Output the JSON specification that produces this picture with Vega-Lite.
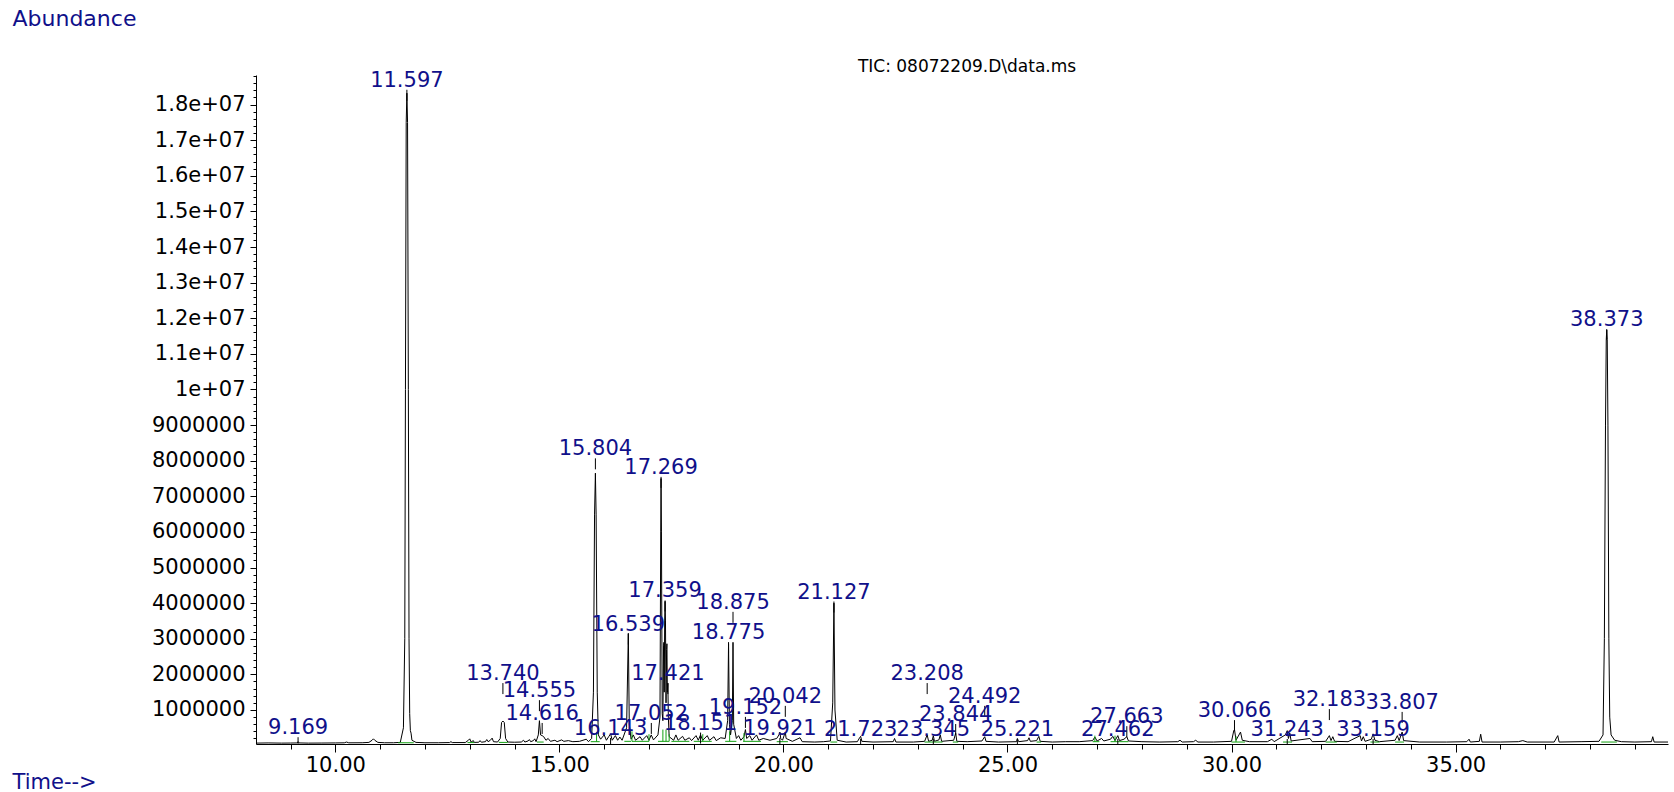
{
  "$schema": "https://vega.github.io/schema/vega-lite/v6.json",
  "width": 1412,
  "height": 669,
  "autosize": {"type": "none"},
  "padding": {"left": 256, "top": 75, "right": 6, "bottom": 48},
  "background": "white",
  "config": {"view": {"stroke": null}, "font": "DejaVu Sans"},
  "title": {"text": "TIC: 08072209.D\\data.ms", "anchor": "middle", "fontSize": 17, "fontWeight": "normal", "font": "DejaVu Sans", "color": "black", "offset": -64, "dx": 5, "dy": 5},
  "datasets": {
    "trace": [
      {"t": 8.23, "a": 70000}, {"t": 8.5, "a": 75000}, {"t": 8.8, "a": 70000}, {"t": 9.0, "a": 72000}, {"t": 9.15, "a": 75000}, {"t": 9.169, "a": 110000}, {"t": 9.19, "a": 75000}, {"t": 9.4, "a": 70000}, {"t": 9.7, "a": 72000}, {"t": 10.0, "a": 75000}, {"t": 10.2, "a": 78000}, {"t": 10.25, "a": 100000}, {"t": 10.3, "a": 78000}, {"t": 10.6, "a": 80000}, {"t": 10.75, "a": 90000}, {"t": 10.82, "a": 150000}, {"t": 10.85, "a": 190000}, {"t": 10.88, "a": 150000}, {"t": 10.95, "a": 90000}, {"t": 11.1, "a": 80000}, {"t": 11.3, "a": 80000}, {"t": 11.45, "a": 90000},
      {"t": 11.52, "a": 500000}, {"t": 11.55, "a": 3000000}, {"t": 11.565, "a": 10000000}, {"t": 11.582, "a": 17500000}, {"t": 11.597, "a": 18320000}, {"t": 11.612, "a": 17500000}, {"t": 11.63, "a": 10000000}, {"t": 11.645, "a": 3000000}, {"t": 11.66, "a": 900000}, {"t": 11.675, "a": 420000}, {"t": 11.69, "a": 350000}, {"t": 11.71, "a": 150000}, {"t": 11.8, "a": 90000}, {"t": 12.0, "a": 80000}, {"t": 12.3, "a": 80000}, {"t": 12.55, "a": 85000}, {"t": 12.58, "a": 110000}, {"t": 12.61, "a": 85000}, {"t": 12.9, "a": 85000}, {"t": 12.97, "a": 150000}, {"t": 13.0, "a": 190000}, {"t": 13.03, "a": 100000}, {"t": 13.08, "a": 140000}, {"t": 13.1, "a": 90000}, {"t": 13.2, "a": 95000}, {"t": 13.23, "a": 140000}, {"t": 13.26, "a": 95000}, {"t": 13.35, "a": 110000}, {"t": 13.38, "a": 170000}, {"t": 13.41, "a": 110000}, {"t": 13.46, "a": 150000}, {"t": 13.5, "a": 210000}, {"t": 13.53, "a": 110000}, {"t": 13.62, "a": 100000}, {"t": 13.68, "a": 200000}, {"t": 13.71, "a": 650000}, {"t": 13.74, "a": 690000}, {"t": 13.77, "a": 650000}, {"t": 13.8, "a": 200000}, {"t": 13.85, "a": 100000}, {"t": 14.0, "a": 95000}, {"t": 14.15, "a": 100000}, {"t": 14.2, "a": 150000}, {"t": 14.23, "a": 100000}, {"t": 14.3, "a": 130000}, {"t": 14.33, "a": 170000}, {"t": 14.36, "a": 110000}, {"t": 14.42, "a": 140000}, {"t": 14.45, "a": 190000}, {"t": 14.48, "a": 110000}, {"t": 14.53, "a": 300000}, {"t": 14.555, "a": 700000}, {"t": 14.58, "a": 300000}, {"t": 14.616, "a": 280000}, {"t": 14.65, "a": 250000}, {"t": 14.7, "a": 150000}, {"t": 14.75, "a": 200000}, {"t": 14.8, "a": 120000}, {"t": 14.9, "a": 150000}, {"t": 14.95, "a": 110000}, {"t": 15.05, "a": 160000}, {"t": 15.1, "a": 120000}, {"t": 15.2, "a": 140000}, {"t": 15.3, "a": 110000}, {"t": 15.45, "a": 120000}, {"t": 15.6, "a": 180000}, {"t": 15.65, "a": 110000}, {"t": 15.72, "a": 200000},
      {"t": 15.76, "a": 1500000}, {"t": 15.785, "a": 6500000}, {"t": 15.804, "a": 7650000}, {"t": 15.82, "a": 6500000}, {"t": 15.845, "a": 1500000}, {"t": 15.87, "a": 300000}, {"t": 15.92, "a": 180000}, {"t": 16.0, "a": 300000}, {"t": 16.05, "a": 150000}, {"t": 16.1, "a": 250000}, {"t": 16.143, "a": 330000}, {"t": 16.18, "a": 150000}, {"t": 16.25, "a": 280000}, {"t": 16.3, "a": 150000}, {"t": 16.35, "a": 240000}, {"t": 16.4, "a": 150000}, {"t": 16.5, "a": 500000}, {"t": 16.539, "a": 3150000}, {"t": 16.56, "a": 600000}, {"t": 16.6, "a": 180000}, {"t": 16.65, "a": 300000}, {"t": 16.7, "a": 150000}, {"t": 16.8, "a": 250000}, {"t": 16.85, "a": 150000}, {"t": 16.95, "a": 280000}, {"t": 17.0, "a": 150000}, {"t": 17.05, "a": 300000}, {"t": 17.1, "a": 160000}, {"t": 17.2, "a": 300000},
      {"t": 17.245, "a": 800000}, {"t": 17.262, "a": 6000000}, {"t": 17.269, "a": 7500000}, {"t": 17.278, "a": 6000000}, {"t": 17.295, "a": 900000}, {"t": 17.31, "a": 700000}, {"t": 17.325, "a": 2800000}, {"t": 17.333, "a": 2900000}, {"t": 17.34, "a": 1500000}, {"t": 17.35, "a": 3500000}, {"t": 17.359, "a": 4050000}, {"t": 17.368, "a": 3500000}, {"t": 17.38, "a": 1200000}, {"t": 17.393, "a": 2700000}, {"t": 17.4, "a": 2860000}, {"t": 17.41, "a": 1500000}, {"t": 17.421, "a": 1750000}, {"t": 17.432, "a": 800000}, {"t": 17.45, "a": 250000}, {"t": 17.55, "a": 150000}, {"t": 17.6, "a": 300000}, {"t": 17.65, "a": 150000}, {"t": 17.75, "a": 260000}, {"t": 17.8, "a": 150000}, {"t": 17.9, "a": 220000}, {"t": 17.95, "a": 140000}, {"t": 18.05, "a": 280000}, {"t": 18.1, "a": 150000}, {"t": 18.15, "a": 300000}, {"t": 18.2, "a": 150000}, {"t": 18.3, "a": 280000}, {"t": 18.35, "a": 150000}, {"t": 18.45, "a": 250000}, {"t": 18.5, "a": 140000}, {"t": 18.6, "a": 220000}, {"t": 18.7, "a": 200000}, {"t": 18.755, "a": 700000}, {"t": 18.775, "a": 2860000}, {"t": 18.795, "a": 600000}, {"t": 18.82, "a": 300000}, {"t": 18.86, "a": 700000}, {"t": 18.875, "a": 2900000}, {"t": 18.89, "a": 600000}, {"t": 18.95, "a": 200000}, {"t": 19.0, "a": 280000}, {"t": 19.05, "a": 150000}, {"t": 19.12, "a": 250000}, {"t": 19.152, "a": 450000}, {"t": 19.18, "a": 200000}, {"t": 19.25, "a": 280000}, {"t": 19.3, "a": 150000}, {"t": 19.4, "a": 300000}, {"t": 19.45, "a": 150000}, {"t": 19.55, "a": 200000}, {"t": 19.7, "a": 150000}, {"t": 19.85, "a": 200000}, {"t": 19.9, "a": 300000}, {"t": 19.921, "a": 380000}, {"t": 19.94, "a": 200000}, {"t": 19.98, "a": 150000}, {"t": 20.02, "a": 300000}, {"t": 20.042, "a": 380000}, {"t": 20.06, "a": 200000}, {"t": 20.2, "a": 120000}, {"t": 20.37, "a": 220000}, {"t": 20.42, "a": 110000}, {"t": 20.7, "a": 100000}, {"t": 20.9, "a": 110000}, {"t": 21.05, "a": 130000}, {"t": 21.1, "a": 1200000}, {"t": 21.127, "a": 4000000}, {"t": 21.15, "a": 1000000}, {"t": 21.2, "a": 150000}, {"t": 21.4, "a": 100000}, {"t": 21.65, "a": 110000}, {"t": 21.7, "a": 220000}, {"t": 21.723, "a": 260000}, {"t": 21.75, "a": 120000}, {"t": 22.0, "a": 100000}, {"t": 22.45, "a": 110000}, {"t": 22.48, "a": 200000}, {"t": 22.51, "a": 100000}, {"t": 22.9, "a": 100000}, {"t": 23.15, "a": 120000}, {"t": 23.208, "a": 300000}, {"t": 23.24, "a": 120000}, {"t": 23.32, "a": 150000}, {"t": 23.345, "a": 280000}, {"t": 23.37, "a": 120000}, {"t": 23.47, "a": 160000}, {"t": 23.5, "a": 300000}, {"t": 23.53, "a": 120000}, {"t": 23.8, "a": 150000}, {"t": 23.844, "a": 350000}, {"t": 23.87, "a": 120000}, {"t": 24.1, "a": 110000}, {"t": 24.43, "a": 130000}, {"t": 24.492, "a": 250000}, {"t": 24.52, "a": 120000}, {"t": 24.8, "a": 100000}, {"t": 25.2, "a": 110000}, {"t": 25.221, "a": 200000}, {"t": 25.25, "a": 110000}, {"t": 25.45, "a": 140000}, {"t": 25.48, "a": 220000}, {"t": 25.51, "a": 120000}, {"t": 25.65, "a": 140000}, {"t": 25.7, "a": 260000}, {"t": 25.73, "a": 120000}, {"t": 26.0, "a": 100000}, {"t": 26.3, "a": 110000}, {"t": 26.6, "a": 110000}, {"t": 26.9, "a": 140000}, {"t": 26.95, "a": 240000}, {"t": 27.0, "a": 130000}, {"t": 27.1, "a": 200000}, {"t": 27.15, "a": 130000}, {"t": 27.3, "a": 180000}, {"t": 27.35, "a": 260000}, {"t": 27.4, "a": 140000}, {"t": 27.462, "a": 280000}, {"t": 27.5, "a": 140000}, {"t": 27.6, "a": 180000}, {"t": 27.663, "a": 250000}, {"t": 27.7, "a": 130000}, {"t": 28.0, "a": 110000}, {"t": 28.4, "a": 100000}, {"t": 28.8, "a": 110000}, {"t": 28.85, "a": 150000}, {"t": 28.9, "a": 100000}, {"t": 29.15, "a": 110000}, {"t": 29.2, "a": 150000}, {"t": 29.25, "a": 100000}, {"t": 29.6, "a": 100000}, {"t": 30.0, "a": 120000}, {"t": 30.05, "a": 420000}, {"t": 30.066, "a": 450000}, {"t": 30.1, "a": 150000}, {"t": 30.2, "a": 380000}, {"t": 30.24, "a": 150000}, {"t": 30.4, "a": 110000}, {"t": 30.8, "a": 110000}, {"t": 30.9, "a": 180000}, {"t": 30.95, "a": 110000}, {"t": 31.2, "a": 300000}, {"t": 31.243, "a": 420000}, {"t": 31.27, "a": 200000}, {"t": 31.3, "a": 350000}, {"t": 31.33, "a": 130000}, {"t": 31.75, "a": 200000}, {"t": 31.8, "a": 110000}, {"t": 32.1, "a": 120000}, {"t": 32.183, "a": 280000}, {"t": 32.22, "a": 140000}, {"t": 32.26, "a": 250000}, {"t": 32.3, "a": 120000}, {"t": 32.6, "a": 110000}, {"t": 32.87, "a": 280000}, {"t": 32.9, "a": 130000}, {"t": 32.94, "a": 250000}, {"t": 32.98, "a": 120000}, {"t": 33.12, "a": 180000}, {"t": 33.159, "a": 330000}, {"t": 33.2, "a": 150000}, {"t": 33.3, "a": 110000}, {"t": 33.65, "a": 150000}, {"t": 33.7, "a": 280000}, {"t": 33.74, "a": 140000}, {"t": 33.807, "a": 380000}, {"t": 33.84, "a": 140000}, {"t": 34.2, "a": 100000}, {"t": 34.8, "a": 100000}, {"t": 35.25, "a": 110000}, {"t": 35.3, "a": 180000}, {"t": 35.33, "a": 100000}, {"t": 35.53, "a": 120000}, {"t": 35.56, "a": 320000}, {"t": 35.59, "a": 100000}, {"t": 36.0, "a": 100000}, {"t": 36.4, "a": 110000}, {"t": 36.5, "a": 140000}, {"t": 36.6, "a": 100000}, {"t": 37.2, "a": 100000}, {"t": 37.28, "a": 280000}, {"t": 37.31, "a": 100000}, {"t": 37.8, "a": 110000}, {"t": 38.2, "a": 120000}, {"t": 38.29, "a": 300000}, {"t": 38.32, "a": 3000000}, {"t": 38.345, "a": 9000000}, {"t": 38.362, "a": 11400000}, {"t": 38.373, "a": 11670000}, {"t": 38.384, "a": 11400000}, {"t": 38.4, "a": 9000000}, {"t": 38.42, "a": 3000000}, {"t": 38.44, "a": 800000}, {"t": 38.47, "a": 300000}, {"t": 38.55, "a": 150000}, {"t": 38.7, "a": 110000}, {"t": 39.0, "a": 100000}, {"t": 39.37, "a": 110000}, {"t": 39.4, "a": 250000}, {"t": 39.43, "a": 100000}, {"t": 39.74, "a": 100000}
    ],
    "base": [
      {"t": 11.4, "t2": 11.75, "a": 80000}, {"t": 12.95, "t2": 13.1, "a": 85000}, {"t": 13.65, "t2": 13.85, "a": 90000}, {"t": 14.5, "t2": 14.65, "a": 100000}, {"t": 15.7, "t2": 15.9, "a": 110000}, {"t": 16.45, "t2": 16.6, "a": 120000}, {"t": 16.62, "t2": 17.0, "a": 120000}, {"t": 17.2, "t2": 17.45, "a": 120000}, {"t": 17.5, "t2": 17.9, "a": 120000}, {"t": 18.0, "t2": 18.4, "a": 120000}, {"t": 18.7, "t2": 18.95, "a": 120000}, {"t": 19.1, "t2": 19.5, "a": 120000}, {"t": 19.85, "t2": 20.1, "a": 110000}, {"t": 21.05, "t2": 21.2, "a": 100000}, {"t": 23.15, "t2": 23.55, "a": 100000}, {"t": 23.78, "t2": 23.9, "a": 100000}, {"t": 25.65, "t2": 25.75, "a": 100000}, {"t": 26.9, "t2": 27.05, "a": 110000}, {"t": 27.3, "t2": 27.7, "a": 110000}, {"t": 30.0, "t2": 30.3, "a": 100000}, {"t": 31.15, "t2": 31.35, "a": 100000}, {"t": 32.1, "t2": 32.35, "a": 100000}, {"t": 33.1, "t2": 33.3, "a": 100000}, {"t": 33.65, "t2": 33.85, "a": 100000}, {"t": 38.25, "t2": 38.6, "a": 100000}
    ],
    "marks": [
      {"t": 15.83, "a": 110000, "a2": 380000}, {"t": 16.62, "a": 120000, "a2": 400000}, {"t": 17.0, "a": 120000, "a2": 320000}, {"t": 17.31, "a": 120000, "a2": 450000}, {"t": 17.38, "a": 120000, "a2": 450000}, {"t": 17.45, "a": 120000, "a2": 320000}, {"t": 18.2, "a": 120000, "a2": 320000}, {"t": 18.8, "a": 120000, "a2": 400000}, {"t": 19.12, "a": 120000, "a2": 350000}, {"t": 26.95, "a": 110000, "a2": 280000}, {"t": 27.4, "a": 110000, "a2": 280000}, {"t": 30.1, "a": 100000, "a2": 260000}
    ],
    "labels": [
      {"t": 9.169, "a": 320000, "label": "9.169"},
      {"t": 11.597, "a": 18500000, "label": "11.597"},
      {"t": 13.74, "a": 1840000, "label": "13.740"},
      {"t": 14.555, "a": 1360000, "label": "14.555"},
      {"t": 14.616, "a": 720000, "label": "14.616"},
      {"t": 15.804, "a": 8150000, "label": "15.804"},
      {"t": 16.143, "a": 300000, "label": "16.143"},
      {"t": 16.539, "a": 3230000, "label": "16.539"},
      {"t": 17.052, "a": 720000, "label": "17.052"},
      {"t": 17.269, "a": 7630000, "label": "17.269"},
      {"t": 17.359, "a": 4160000, "label": "17.359"},
      {"t": 17.421, "a": 1840000, "label": "17.421"},
      {"t": 18.151, "a": 450000, "label": "18.151"},
      {"t": 18.775, "a": 2990000, "label": "18.775"},
      {"t": 18.875, "a": 3840000, "label": "18.875"},
      {"t": 19.152, "a": 890000, "label": "19.152"},
      {"t": 19.921, "a": 300000, "label": "19.921"},
      {"t": 20.042, "a": 1200000, "label": "20.042"},
      {"t": 21.127, "a": 4130000, "label": "21.127"},
      {"t": 21.723, "a": 270000, "label": "21.723"},
      {"t": 23.208, "a": 1840000, "label": "23.208"},
      {"t": 23.345, "a": 270000, "label": "23.345"},
      {"t": 23.844, "a": 690000, "label": "23.844"},
      {"t": 24.492, "a": 1200000, "label": "24.492"},
      {"t": 25.221, "a": 270000, "label": "25.221"},
      {"t": 27.462, "a": 270000, "label": "27.462"},
      {"t": 27.663, "a": 630000, "label": "27.663"},
      {"t": 30.066, "a": 800000, "label": "30.066"},
      {"t": 31.243, "a": 270000, "label": "31.243"},
      {"t": 32.183, "a": 1110000, "label": "32.183"},
      {"t": 33.159, "a": 270000, "label": "33.159"},
      {"t": 33.807, "a": 1030000, "label": "33.807"},
      {"t": 38.373, "a": 11780000, "label": "38.373"}
    ]
  },
  "encoding": {
    "x": {
      "field": "t", "type": "quantitative",
      "scale": {"domain": [8.23, 39.74], "nice": false, "zero": false},
      "axis": {
        "values": [9, 10, 11, 12, 13, 14, 15, 16, 17, 18, 19, 20, 21, 22, 23, 24, 25, 26, 27, 28, 29, 30, 31, 32, 33, 34, 35, 36, 37, 38, 39],
        "labelExpr": "datum.value % 5 === 0 ? format(datum.value, '.2f') : ''",
        "tickSize": {"condition": {"test": "datum.value % 5 === 0", "value": 8}, "value": 5},
        "tickColor": "black", "domainColor": "black", "grid": false,
        "labelFont": "DejaVu Sans", "labelFontSize": 21, "labelColor": "black", "labelPadding": 2, "labelOverlap": false, "labelFlush": false,
        "title": "Time-->", "titleX": -244, "titleY": 38, "titleAlign": "left", "titleBaseline": "middle", "titleColor": "#10108a", "titleFont": "DejaVu Sans", "titleFontSize": 21, "titleFontWeight": "normal"
      }
    },
    "y": {
      "field": "a", "type": "quantitative",
      "scale": {"domain": [45000, 18830000], "nice": false, "zero": false},
      "axis": {
        "values": [200000, 400000, 600000, 800000, 1000000, 1200000, 1400000, 1600000, 1800000, 2000000, 2200000, 2400000, 2600000, 2800000, 3000000, 3200000, 3400000, 3600000, 3800000, 4000000, 4200000, 4400000, 4600000, 4800000, 5000000, 5200000, 5400000, 5600000, 5800000, 6000000, 6200000, 6400000, 6600000, 6800000, 7000000, 7200000, 7400000, 7600000, 7800000, 8000000, 8200000, 8400000, 8600000, 8800000, 9000000, 9200000, 9400000, 9600000, 9800000, 10000000, 10200000, 10400000, 10600000, 10800000, 11000000, 11200000, 11400000, 11600000, 11800000, 12000000, 12200000, 12400000, 12600000, 12800000, 13000000, 13200000, 13400000, 13600000, 13800000, 14000000, 14200000, 14400000, 14600000, 14800000, 15000000, 15200000, 15400000, 15600000, 15800000, 16000000, 16200000, 16400000, 16600000, 16800000, 17000000, 17200000, 17400000, 17600000, 17800000, 18000000, 18200000, 18400000, 18600000, 18800000],
        "labelExpr": "datum.value % 1000000 === 0 ? (datum.value >= 10000000 ? replace(format(datum.value, '.2~e'), 'e+7', 'e+07') : format(datum.value, 'd')) : ''",
        "tickSize": {"condition": {"test": "datum.value % 1000000 === 0", "value": 6}, "value": 3},
        "tickColor": "black", "domainColor": "black", "grid": false,
        "labelFont": "DejaVu Sans", "labelFontSize": 21, "labelColor": "black", "labelPadding": 5, "labelOverlap": false, "labelFlush": false, "labelBaseline": "middle",
        "title": "Abundance", "titleAngle": 0, "titleX": -244, "titleY": -57, "titleAlign": "left", "titleBaseline": "middle", "titleColor": "#10108a", "titleFont": "DejaVu Sans", "titleFontSize": 22, "titleFontWeight": "normal"
      }
    }
  },
  "layer": [
    {
      "data": {"name": "trace"},
      "mark": {"type": "line", "color": "black", "strokeWidth": 1, "clip": true}
    },
    {
      "data": {"name": "base"},
      "mark": {"type": "rule", "color": "#12a012", "strokeWidth": 1},
      "encoding": {"x2": {"field": "t2"}}
    },
    {
      "data": {"name": "marks"},
      "mark": {"type": "rule", "color": "#12a012", "strokeWidth": 1},
      "encoding": {"y2": {"field": "a2"}}
    },
    {
      "data": {"name": "labels"},
      "mark": {"type": "rule", "color": "black", "strokeWidth": 1, "yOffset": 3, "y2Offset": 14, "clip": true},
      "encoding": {"y2": {"field": "a"}}
    },
    {
      "data": {"name": "labels"},
      "mark": {"type": "text", "color": "#10108a", "font": "DejaVu Sans", "fontSize": 21, "align": "center", "baseline": "alphabetic"},
      "encoding": {"text": {"field": "label"}}
    }
  ]
}
